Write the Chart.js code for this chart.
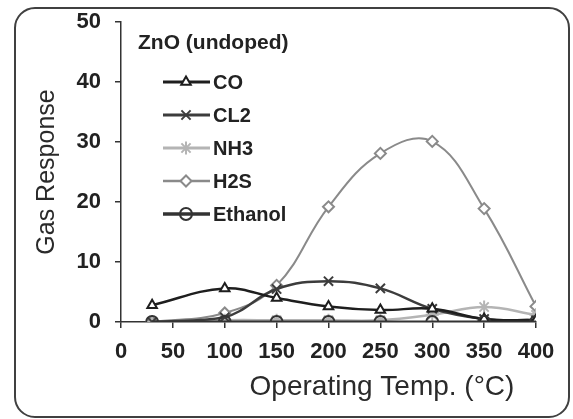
<!DOCTYPE html>
<html lang="en">
<head>
  <meta charset="UTF-8">
  <title>ZnO (undoped) gas response</title>
  <script src="https://cdn.jsdelivr.net/npm/chart.js"></script>
  <style>
    html, body { margin: 0; padding: 0; background: #fff; }
    #wrap { width: 573px; height: 419px; }
  </style>
</head>
<body>
  <div id="wrap"><canvas id="gasChart" width="573" height="419"></canvas></div>

  <script>
    // data
    const temps = [30, 100, 150, 200, 250, 300, 350, 400];
    const co      = [2.8, 5.6, 4.0, 2.6, 2.0, 2.2, 0.5, 0.3];
    const cl2     = [0.0, 0.8, 5.5, 6.8, 5.6, 2.2, 0.5, 0.3];
    const nh3     = [0.0, 0.3, 0.3, 0.3, 0.3, 1.2, 2.5, 1.2];
    const h2s     = [0.0, 1.5, 6.1, 19.2, 28.1, 30.1, 18.9, 2.6];
    const ethanol = [0, 0, 0, 0, 0, 0, 0, 0];
    const xTicks = [0, 50, 100, 150, 200, 250, 300, 350, 400];
    const yTicks = [0, 10, 20, 30, 40, 50];

    const FONT = "'Liberation Sans', Arial, sans-serif";

    function pts(ys) {
      return temps.map((t, i) => ({ x: t, y: ys[i] }));
    }

    function series(label, ys, color, width, style, radius, fill) {
      return {
        label: label,
        data: pts(ys),
        borderColor: color,
        borderWidth: width,
        pointStyle: style,
        pointRadius: radius,
        pointBorderColor: color,
        pointBorderWidth: 2,
        pointBackgroundColor: fill,
        tension: 0.4,
        fill: false
      };
    }

    const datasets = [
      series('Ethanol', ethanol, '#333', 3, 'circle', 6, 'rgba(0,0,0,0)'),
      series('CO', co, '#1e1e1e', 2.5, 'triangle', 5.5, '#fff'),
      series('CL2', cl2, '#3c3c3c', 2.5, 'crossRot', 6.5, '#fff'),
      series('NH3', nh3, '#b4b4b4', 2.5, 'star', 6.5, '#fff'),
      series('H2S', h2s, '#8a8a8a', 2, 'rectRot', 5.5, '#fff')
    ];
    const legendOrder = ['CO', 'CL2', 'NH3', 'H2S', 'Ethanol'];

    // frame, axis titles and legend
    const decor = {
      id: 'decor',
      beforeDraw(chart) {
        const ctx = chart.ctx;
        ctx.save();
        ctx.fillStyle = '#fff';
        ctx.fillRect(0, 0, chart.width, chart.height);
        ctx.strokeStyle = '#404040';
        ctx.lineWidth = 2;
        ctx.beginPath();
        ctx.roundRect(15, 8, 554, 409, 20);
        ctx.stroke();
        ctx.restore();
      },
      afterDraw(chart) {
        const ctx = chart.ctx;
        ctx.save();
        ctx.fillStyle = '#2a2a2a';

        ctx.font = '28px ' + FONT;
        ctx.textAlign = 'center';
        ctx.textBaseline = 'middle';
        ctx.fillText('Operating Temp. (°C)', 382, 387);

        ctx.font = '25px ' + FONT;
        ctx.translate(47, 172);
        ctx.rotate(-Math.PI / 2);
        ctx.fillText('Gas Response', 0, 0);
        ctx.setTransform(1, 0, 0, 1, 0, 0);

        ctx.textAlign = 'left';
        ctx.font = 'bold 21px ' + FONT;
        ctx.fillStyle = '#222';
        ctx.fillText('ZnO (undoped)', 138, 43);

        legendOrder.forEach((name, i) => {
          const ds = chart.data.datasets.find(d => d.label === name);
          const y = 82 + i * 33;
          ctx.strokeStyle = ds.borderColor;
          ctx.lineWidth = ds.borderWidth + 0.5;
          ctx.beginPath();
          ctx.moveTo(163, y);
          ctx.lineTo(210, y);
          ctx.stroke();
          ctx.fillStyle = ds.pointBackgroundColor;
          ctx.strokeStyle = ds.pointBorderColor;
          ctx.lineWidth = ds.pointBorderWidth;
          Chart.helpers.drawPoint(ctx, {
            pointStyle: ds.pointStyle,
            radius: ds.pointRadius,
            borderWidth: ds.pointBorderWidth,
            rotation: 0
          }, 186, y);
          ctx.fillStyle = '#222';
          ctx.font = 'bold 20px ' + FONT;
          ctx.fillText(name, 213, y + 1);
        });
        ctx.restore();
      }
    };

    new Chart(document.getElementById('gasChart'), {
      type: 'line',
      data: { datasets: datasets },
      options: {
        responsive: false,
        animation: false,
        layout: { padding: { left: 0, top: 22, right: 37, bottom: 0 } },
        plugins: {
          legend: { display: false },
          tooltip: { enabled: false }
        },
        scales: {
          x: {
            type: 'linear',
            min: 0,
            max: 400,
            afterBuildTicks(scale) { scale.ticks = xTicks.map(v => ({ value: v })); },
            afterFit(scale) { scale.height = 97; scale.paddingLeft = 0; scale.paddingRight = 0; },
            grid: { drawOnChartArea: false, tickLength: 6, color: '#333', lineWidth: 1.5 },
            border: { color: '#333', width: 1.5 },
            ticks: { padding: 11, color: '#222', font: { family: FONT, size: 22, weight: 'bold' }, maxRotation: 0, autoSkip: false }
          },
          y: {
            min: 0,
            max: 50,
            afterBuildTicks(scale) { scale.ticks = yTicks.map(v => ({ value: v })); },
            afterFit(scale) { scale.width = 121; scale.paddingTop = 0; scale.paddingBottom = 0; },
            grid: { drawOnChartArea: false, tickLength: 6, color: '#333', lineWidth: 1.5 },
            border: { color: '#333', width: 1.5 },
            ticks: { padding: 14, color: '#222', font: { family: FONT, size: 22, weight: 'bold' } }
          }
        }
      },
      plugins: [decor]
    });
  </script>
</body>
</html>
